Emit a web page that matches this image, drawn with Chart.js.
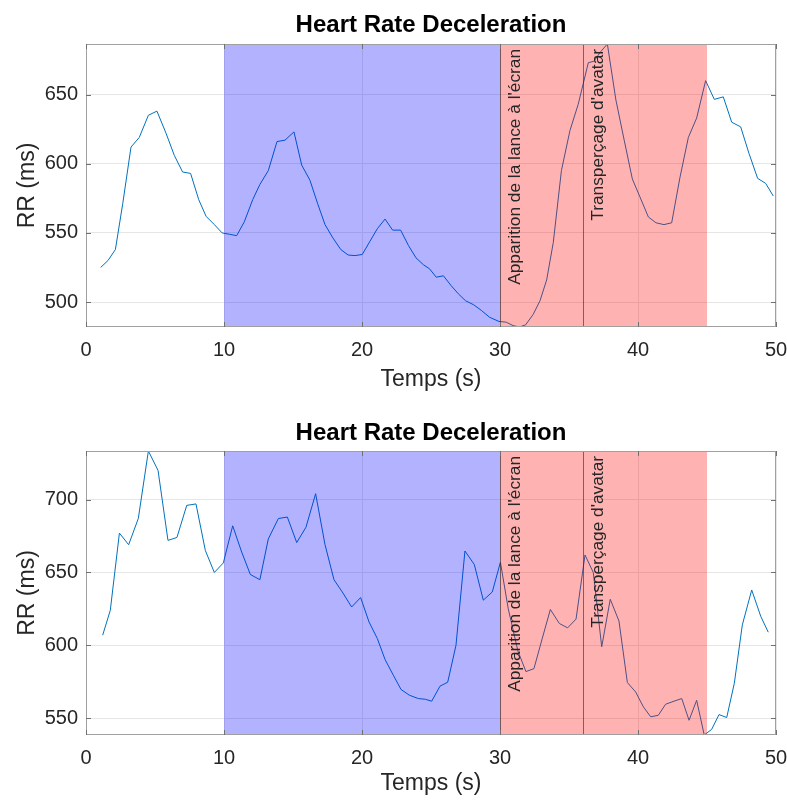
<!DOCTYPE html>
<html>
<head>
<meta charset="utf-8">
<script src="https://cdn.jsdelivr.net/npm/chart.js@4.4.0/dist/chart.umd.min.js"></script>
<style>
  body { margin: 0; background: #fff; }
  .panel { position: absolute; left: 0; width: 787px; }
  canvas { display: block; }
</style>
</head>
<body>
<div class="panel" style="top:0;height:400px"><canvas id="chart1" width="787" height="400"></canvas></div>
<div class="panel" style="top:400px;height:401px"><canvas id="chart2" width="787" height="401"></canvas></div>
<script>
// ---- data ----
const chartTitle = "Heart Rate Deceleration";
const xTitle = "Temps (s)";
const yTitle = "RR (ms)";
const xTicks = [0, 10, 20, 30, 40, 50];

// top panel
const topTime = [1.06, 1.59, 2.13, 2.66, 3.26, 3.86, 4.52, 5.14, 5.8, 6.4, 7.0, 7.58, 8.17, 8.7, 9.3, 9.86, 10.4, 10.92,
  11.47, 12.08, 12.6, 13.21, 13.84, 14.42, 15.07, 15.63, 16.23, 16.79, 17.32, 17.85, 18.46, 19.0, 19.49, 20.02, 20.58,
  21.11, 21.67, 22.22, 22.8, 23.36, 23.91, 24.45, 24.9, 25.38, 25.9, 26.45, 26.98, 27.5, 28.1, 28.65, 29.25, 29.93,
  30.45, 30.95, 31.4, 31.85, 32.4, 32.9, 33.38, 33.86, 34.45, 35.07, 35.67, 36.4, 36.8, 37.3, 37.78, 38.4, 39.0, 39.59,
  40.14, 40.75, 41.3, 41.88, 42.44, 43.04, 43.65, 44.25, 44.9, 45.53, 46.18, 46.79, 47.44, 48.04, 48.67, 49.25, 49.8];
const topRR = [525, 530, 538, 571, 612, 619, 635, 638, 622, 606, 594, 593, 574, 562, 556, 550, 549, 548,
  558, 574, 585, 595, 616, 617, 623, 599, 588, 571, 556, 547, 538, 534, 533.6, 534.4, 544,
  553, 560, 552, 552, 541, 532, 527, 524, 518, 519, 512, 506, 501, 498, 494, 489, 486,
  485.5, 483, 482, 483.5, 491, 501, 516, 543, 595, 624, 643, 673, 674, 681, 686.5, 646, 617, 589,
  576, 561.5, 557.3, 556, 557.3, 590, 619, 633, 660, 646.5, 648.3, 630, 626.6, 607.5, 589.4, 585.8, 576.7];
const topYMin = 482, topYMax = 686.5;
const topYTicks = [500, 550, 600, 650];

// bottom panel
const bottomTime = [1.21, 1.76, 2.42, 3.09, 3.79, 4.52, 5.22, 5.94, 6.59, 7.3, 7.97, 8.65, 9.3, 9.95, 10.63, 11.28,
  11.91, 12.6, 13.21, 13.94, 14.59, 15.27, 15.94, 16.64, 17.32, 17.97, 18.57, 19.25, 19.9, 20.51, 21.11, 21.67, 22.27,
  22.83, 23.43, 24.08, 24.6, 25.05, 25.65, 26.21, 26.81, 27.46, 28.14, 28.79, 29.44, 30.03, 30.6, 31.3, 31.88, 32.46,
  33.07, 33.65, 34.3, 34.9, 35.51, 36.16, 36.76, 37.37, 37.99, 38.62, 39.23, 39.83, 40.39, 40.92, 41.47, 42.0, 42.61,
  43.17, 43.7, 44.25, 44.8, 45.34, 45.87, 46.43, 46.98, 47.56, 48.24, 48.89, 49.44];
const bottomRR = [607, 624, 677, 669, 687, 733.3, 720, 672, 674, 696, 697, 665, 650, 656.5, 682, 664,
  648.6, 645, 673, 687, 688, 670.5, 681, 704, 669, 645, 636.6, 626.3, 632.8, 616, 604.7, 590.3, 579.5,
  569.7, 565.8, 563.5, 563, 561.7, 572, 574.7, 600, 664.7, 655.4, 631, 636.6, 657, 625, 596, 582, 584,
  605, 624.6, 615, 612, 618, 662, 650, 599, 631.6, 616.7, 574.5, 568, 557.8, 551, 552, 559.6, 561.7,
  563.5, 548.6, 562.3, 538.5, 542.4, 552.5, 550.5, 574, 614, 638, 620, 609];
const bottomYMin = 538.5, bottomYMax = 733.3;
const bottomYTicks = [550, 600, 650, 700];

// shaded windows and events (seconds)
const baselineSpan = [10, 30];
const stimulusSpan = [30, 45];
const eventTimes = [30, 36];
const eventLabels = ["Apparition de la lance à l'écran", "Transperçage d'avatar"];

Chart.defaults.font.family = '"Liberation Sans", Arial, Helvetica, sans-serif';
Chart.defaults.color = '#262626';

const overlay = {
  id: 'overlay',
  afterDatasetsDraw(chart) {
    const { ctx, chartArea: a, scales: { x, y } } = chart;
    const h = a.bottom - a.top;
    ctx.save();

    // shaded windows on top of the trace
    const x0 = x.getPixelForValue(baselineSpan[0]), x1 = x.getPixelForValue(baselineSpan[1]);
    ctx.fillStyle = 'rgba(0,0,255,0.3)';
    ctx.fillRect(x0, a.top, x1 - x0, h);
    const x2 = x.getPixelForValue(stimulusSpan[0]), x3 = x.getPixelForValue(stimulusSpan[1]);
    ctx.fillStyle = 'rgba(255,0,0,0.3)';
    ctx.fillRect(x2, a.top, x3 - x2, h);

    // event markers
    eventTimes.forEach((t, i) => {
      const px = Math.round(x.getPixelForValue(t)) + 0.5;
      ctx.strokeStyle = 'rgba(38,38,38,0.6)';
      ctx.lineWidth = 1;
      ctx.beginPath();
      ctx.moveTo(px, a.top);
      ctx.lineTo(px, a.bottom);
      ctx.stroke();
      ctx.save();
      ctx.translate(px + 6, a.top + 5);
      ctx.rotate(-Math.PI / 2);
      ctx.textAlign = 'right';
      ctx.textBaseline = 'top';
      ctx.font = '17.3px "Liberation Sans", Arial, sans-serif';
      ctx.fillStyle = '#262626';
      ctx.fillText(eventLabels[i], 0, 0);
      ctx.restore();
    });

    // axes box with inward ticks
    ctx.strokeStyle = '#a0a0a0';
    ctx.lineWidth = 1;
    ctx.strokeRect(a.left + 0.5, a.top + 0.5, a.right - a.left - 1, h - 1);
    ctx.beginPath();
    x.ticks.forEach(tk => {
      const px = Math.round(x.getPixelForValue(tk.value)) + 0.5;
      ctx.moveTo(px, a.bottom); ctx.lineTo(px, a.bottom - 5);
      ctx.moveTo(px, a.top); ctx.lineTo(px, a.top + 5);
    });
    y.ticks.forEach(tk => {
      const py = Math.round(y.getPixelForValue(tk.value)) + 0.5;
      ctx.moveTo(a.left, py); ctx.lineTo(a.left + 5, py);
      ctx.moveTo(a.right, py); ctx.lineTo(a.right - 5, py);
    });
    ctx.strokeStyle = '#707070';
    ctx.stroke();
    ctx.restore();
  }
};

// keep the plot box fixed, whatever the tick label widths are
function noEdgePadding(s) {
  s.paddingLeft = 0; s.paddingRight = 0; s.paddingTop = 0; s.paddingBottom = 0;
}

function buildChart(id, time, rr, yMin, yMax, yTicks, lay) {
  return new Chart(document.getElementById(id), {
    type: 'line',
    data: {
      datasets: [{
        data: time.map((t, i) => ({ x: t, y: rr[i] })),
        borderColor: '#0072BD',
        borderWidth: 1,
        pointRadius: 0,
        tension: 0,
        fill: false
      }]
    },
    options: {
      responsive: false,
      animation: false,
      devicePixelRatio: 1,
      layout: { padding: { left: 0, right: 11, top: 0, bottom: 0 } },
      plugins: {
        legend: { display: false },
        tooltip: { enabled: false },
        title: {
          display: true,
          fullSize: false,
          text: chartTitle,
          color: '#000',
          font: { size: 24, weight: 'bold' },
          padding: { top: lay.titleTop, bottom: lay.titleBottom }
        }
      },
      scales: {
        x: {
          type: 'linear',
          min: 0,
          max: 50,
          afterBuildTicks: s => { s.ticks = xTicks.map(v => ({ value: v })); },
          afterFit: s => { s.height = lay.xHeight; noEdgePadding(s); },
          grid: { color: '#e6e6e6', drawTicks: false },
          border: { display: false },
          ticks: { font: { size: 20 }, padding: 11, maxRotation: 0, autoSkip: false },
          title: { display: true, text: xTitle, font: { size: 23 }, padding: { top: 0, bottom: lay.xTitleBottom } }
        },
        y: {
          min: yMin,
          max: yMax,
          afterBuildTicks: s => { s.ticks = yTicks.map(v => ({ value: v })); },
          afterFit: s => { s.width = 86; noEdgePadding(s); },
          grid: { color: '#e6e6e6', drawTicks: false },
          border: { display: false },
          ticks: { font: { size: 20 }, padding: 8 },
          title: { display: true, text: yTitle, font: { size: 23 }, padding: { top: 14, bottom: 0 } }
        }
      }
    },
    plugins: [overlay]
  });
}

// title box: padding top + 1.2*24 + padding bottom = plot top
buildChart('chart1', topTime, topRR, topYMin, topYMax, topYTicks,
  { titleTop: 10.6, titleBottom: 4.6, xHeight: 73, xTitleBottom: 7 });
buildChart('chart2', bottomTime, bottomRR, bottomYMin, bottomYMax, bottomYTicks,
  { titleTop: 18.6, titleBottom: 3.6, xHeight: 66, xTitleBottom: 4 });
</script>
</body>
</html>
